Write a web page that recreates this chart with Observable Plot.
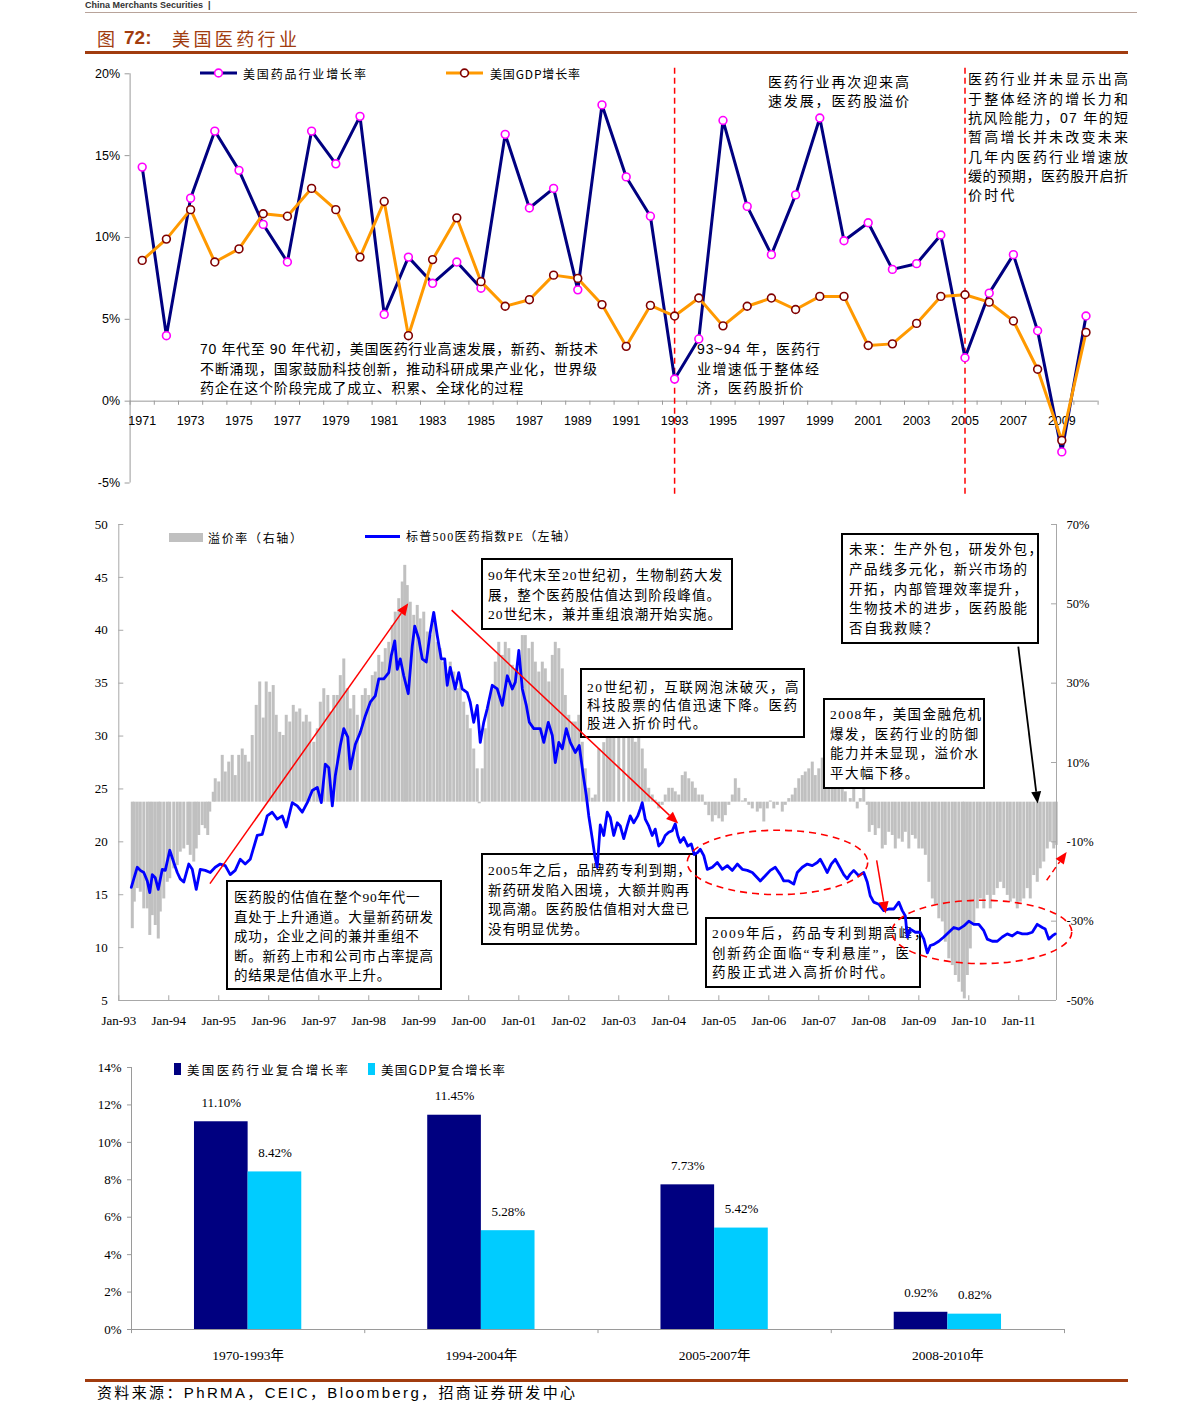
<!DOCTYPE html>
<html lang="zh-CN"><head><meta charset="utf-8">
<script src="https://cdn.jsdelivr.net/npm/d3@7"></script>
<script src="https://cdn.jsdelivr.net/npm/@observablehq/plot@0.6"></script>
<style>
html,body{margin:0;padding:0;background:#fff;}
#page{position:relative;width:1191px;height:1422px;overflow:hidden;background:#fff;}
</style></head><body><div id="page"></div>
<script>
// ---------------- DATA ----------------
// Panel 1: annual growth (%)
const years = [1971,1972,1973,1974,1975,1976,1977,1978,1979,1980,1981,1982,1983,1984,1985,1986,1987,1988,1989,1990,1991,1992,1993,1994,1995,1996,1997,1998,1999,2000,2001,2002,2003,2004,2005,2006,2007,2008,2009,2010];
const pharmaGrowth = [14.3,4.0,12.4,16.5,14.1,10.8,8.5,16.5,14.5,17.4,5.3,8.8,7.2,8.5,6.9,16.3,11.8,13.0,6.8,18.1,13.7,11.3,1.35,3.8,17.15,11.9,8.95,12.6,17.3,9.8,10.9,8.05,8.4,10.15,2.65,6.6,8.95,4.3,-3.1,5.2];
const gdpGrowth = [8.6,9.9,11.7,8.5,9.3,11.45,11.3,13.0,11.7,8.8,12.2,4.0,8.65,11.2,7.3,5.8,6.2,7.7,7.5,5.9,3.35,5.85,5.2,6.3,4.6,5.8,6.3,5.6,6.4,6.4,3.4,3.5,4.75,6.4,6.5,6.05,4.9,1.95,-2.4,4.2];
const topYTicks = [-5,0,5,10,15,20];
const topLabelYears = [1971,1973,1975,1977,1979,1981,1983,1985,1987,1989,1991,1993,1995,1997,1999,2001,2003,2005,2007,2009];
const dividerYears = [1993,2005];

// Panel 2: S&P500 pharma PE (left axis), [decimal year, PE]
const peSeries = [[1993.25,15.7],[1993.30,16.5],[1993.37,17.6],[1993.43,17.3],[1993.50,17.1],[1993.57,16.3],[1993.62,15.2],[1993.67,16.9],[1993.73,16.6],[1993.79,15.5],[1993.87,17.4],[1993.93,17.3],[1994.02,19.2],[1994.10,18.05],[1994.17,17.1],[1994.23,16.5],[1994.30,16.2],[1994.40,17.9],[1994.47,17.4],[1994.55,15.5],[1994.63,17.4],[1994.73,17.3],[1994.83,17.1],[1994.93,17.6],[1995.03,17.9],[1995.13,17.75],[1995.23,16.9],[1995.33,17.3],[1995.43,18.35],[1995.53,17.9],[1995.63,18.35],[1995.77,20.6],[1995.87,20.7],[1995.97,22.45],[1996.07,22.8],[1996.17,22.15],[1996.27,22.45],[1996.35,21.4],[1996.47,23.7],[1996.57,23.4],[1996.67,22.8],[1996.77,23.7],[1996.87,24.85],[1996.97,25.15],[1997.05,23.7],[1997.13,27.35],[1997.20,27.0],[1997.27,23.4],[1997.33,26.25],[1997.43,29.1],[1997.50,30.7],[1997.58,29.9],[1997.63,26.9],[1997.73,29.2],[1997.83,30.35],[1997.93,31.9],[1998.03,33.2],[1998.13,33.8],[1998.20,35.4],[1998.30,35.4],[1998.40,36.0],[1998.45,37.6],[1998.52,39.0],[1998.57,36.3],[1998.63,37.3],[1998.70,35.7],[1998.79,34.0],[1998.87,38.5],[1998.92,40.4],[1999.00,39.2],[1999.07,37.3],[1999.15,37.0],[1999.23,39.8],[1999.30,41.7],[1999.37,39.5],[1999.45,37.3],[1999.52,37.3],[1999.57,34.8],[1999.63,36.5],[1999.73,34.45],[1999.80,36.0],[1999.87,34.45],[1999.97,34.1],[2000.03,33.2],[2000.10,31.3],[2000.17,32.9],[2000.23,29.4],[2000.30,31.3],[2000.37,32.6],[2000.47,34.8],[2000.57,34.45],[2000.67,32.9],[2000.77,35.7],[2000.87,34.45],[2000.93,35.1],[2001.00,38.1],[2001.07,34.45],[2001.15,32.9],[2001.21,31.3],[2001.30,30.7],[2001.37,30.7],[2001.43,30.7],[2001.50,29.4],[2001.59,31.3],[2001.67,30.05],[2001.73,27.5],[2001.80,29.4],[2001.87,28.8],[2001.95,30.7],[2002.03,29.4],[2002.13,28.45],[2002.21,29.1],[2002.28,26.6],[2002.35,24.4],[2002.40,22.45],[2002.47,20.3],[2002.52,18.7],[2002.57,17.6],[2002.63,21.6],[2002.70,20.6],[2002.77,22.8],[2002.83,22.3],[2002.90,20.6],[2002.97,21.8],[2003.03,21.5],[2003.10,20.3],[2003.17,21.5],[2003.23,22.45],[2003.30,21.8],[2003.38,22.45],[2003.43,23.1],[2003.47,23.7],[2003.53,22.15],[2003.60,21.5],[2003.67,20.6],[2003.73,21.2],[2003.80,19.6],[2003.87,19.95],[2003.93,20.6],[2004.00,20.9],[2004.07,21.05],[2004.13,21.7],[2004.18,20.6],[2004.23,19.95],[2004.30,20.4],[2004.38,19.6],[2004.45,19.8],[2004.51,18.8],[2004.58,19.0],[2004.63,19.3],[2004.70,18.7],[2004.77,17.4],[2004.87,17.6],[2004.97,18.05],[2005.07,17.4],[2005.17,17.75],[2005.27,17.3],[2005.37,17.9],[2005.47,17.4],[2005.57,17.3],[2005.67,17.1],[2005.77,16.6],[2005.83,16.3],[2005.93,16.8],[2006.03,17.3],[2006.13,17.6],[2006.23,16.9],[2006.30,16.3],[2006.40,16.3],[2006.50,16.0],[2006.57,17.1],[2006.67,17.6],[2006.77,17.9],[2006.87,17.75],[2006.97,18.05],[2007.03,18.35],[2007.10,17.75],[2007.17,17.1],[2007.25,17.9],[2007.33,18.35],[2007.42,17.6],[2007.50,16.9],[2007.57,16.5],[2007.63,16.95],[2007.70,17.3],[2007.80,16.8],[2007.90,17.1],[2007.97,16.2],[2008.03,14.9],[2008.10,14.3],[2008.20,14.1],[2008.30,13.5],[2008.40,13.65],[2008.50,13.65],[2008.60,14.3],[2008.67,13.5],[2008.73,13.0],[2008.77,11.0],[2008.83,11.75],[2008.93,11.45],[2009.03,11.45],[2009.10,10.8],[2009.17,9.5],[2009.23,10.2],[2009.30,10.3],[2009.40,10.6],[2009.50,11.0],[2009.60,11.45],[2009.70,11.9],[2009.80,11.75],[2009.90,12.05],[2010.00,12.5],[2010.10,12.2],[2010.20,12.2],[2010.30,11.6],[2010.37,10.8],[2010.47,10.6],[2010.57,10.6],[2010.67,11.0],[2010.77,11.3],[2010.87,11.1],[2010.97,11.45],[2011.07,11.3],[2011.17,11.3],[2011.27,11.45],[2011.37,12.2],[2011.47,11.9],[2011.53,11.75],[2011.60,10.8],[2011.67,11.1],[2011.73,11.3]];

// Panel 2: premium (right axis, %), [decimal year, premium]
const premiumSeries = [[1993.27,-31.9],[1993.31,-25.2],[1993.37,-21.8],[1993.43,-22.7],[1993.50,-26.9],[1993.57,-26.9],[1993.62,-33.6],[1993.67,-28.6],[1993.73,-31.1],[1993.79,-34.5],[1993.83,-27.7],[1993.90,-24.4],[1993.97,-20.2],[1994.02,-19.3],[1994.10,-16.8],[1994.17,-16.0],[1994.23,-12.6],[1994.30,-11.8],[1994.38,-10.9],[1994.43,-13.4],[1994.50,-15.1],[1994.55,-11.8],[1994.60,-8.4],[1994.67,-5.9],[1994.73,-6.7],[1994.78,-8.4],[1994.82,-2.5],[1994.89,2.5],[1994.93,5.9],[1995.00,5.1],[1995.07,11.8],[1995.13,7.6],[1995.20,10.1],[1995.27,11.8],[1995.33,6.7],[1995.40,11.8],[1995.47,13.4],[1995.53,11.8],[1995.60,10.1],[1995.67,16.8],[1995.75,24.4],[1995.82,30.3],[1995.89,21.2],[1995.95,30.3],[1996.02,27.7],[1996.09,29.4],[1996.15,21.9],[1996.22,17.6],[1996.29,16.8],[1996.35,21.9],[1996.42,20.2],[1996.49,24.4],[1996.55,22.7],[1996.62,23.5],[1996.69,20.2],[1996.75,21.9],[1996.82,20.2],[1996.90,15.1],[1996.97,18.5],[1997.03,25.2],[1997.10,28.6],[1997.18,26.9],[1997.23,22.7],[1997.30,26.9],[1997.37,26.9],[1997.43,31.9],[1997.50,36.1],[1997.57,28.6],[1997.63,23.5],[1997.70,26.9],[1997.77,21.9],[1997.87,26.9],[1997.93,28.6],[1998.00,26.9],[1998.07,31.9],[1998.13,32.8],[1998.20,37.0],[1998.27,35.3],[1998.33,38.7],[1998.40,40.3],[1998.47,44.5],[1998.53,47.9],[1998.60,51.3],[1998.67,55.5],[1998.72,59.7],[1998.77,54.6],[1998.83,50.4],[1998.90,47.1],[1998.97,49.6],[1999.03,46.2],[1999.10,47.9],[1999.17,42.9],[1999.23,42.0],[1999.30,47.1],[1999.37,40.3],[1999.43,38.7],[1999.50,35.3],[1999.57,31.9],[1999.63,35.3],[1999.70,32.8],[1999.77,28.6],[1999.83,30.3],[1999.90,25.2],[1999.97,21.9],[2000.03,18.5],[2000.10,13.4],[2000.17,8.4],[2000.21,-0.4],[2000.27,8.4],[2000.33,18.5],[2000.40,25.2],[2000.47,28.6],[2000.53,35.3],[2000.60,40.3],[2000.67,37.0],[2000.73,40.3],[2000.80,38.7],[2000.87,34.5],[2000.93,33.6],[2001.00,37.0],[2001.07,42.0],[2001.13,42.0],[2001.20,38.7],[2001.27,40.3],[2001.33,35.3],[2001.40,32.8],[2001.47,35.3],[2001.53,33.6],[2001.60,30.3],[2001.67,37.0],[2001.73,40.3],[2001.80,38.7],[2001.87,33.6],[2001.93,26.9],[2002.00,21.9],[2002.07,20.2],[2002.13,20.2],[2002.20,21.9],[2002.27,15.1],[2002.33,8.4],[2002.40,3.5],[2002.47,1.0],[2002.53,1.8],[2002.60,13.4],[2002.70,15.0],[2002.77,18.5],[2002.83,20.0],[2002.90,21.9],[2003.00,25.2],[2003.10,20.2],[2003.20,21.9],[2003.27,19.4],[2003.33,15.1],[2003.40,18.5],[2003.47,13.4],[2003.53,8.4],[2003.60,3.5],[2003.67,1.8],[2003.73,0.5],[2003.80,-1.7],[2003.87,-0.8],[2003.93,1.8],[2004.00,3.5],[2004.07,3.5],[2004.13,2.6],[2004.20,1.8],[2004.27,6.7],[2004.33,7.6],[2004.40,5.9],[2004.47,5.1],[2004.53,3.5],[2004.60,1.8],[2004.67,1.8],[2004.73,-0.8],[2004.80,-3.4],[2004.87,-5.0],[2004.93,-3.4],[2005.00,-4.2],[2005.07,-5.0],[2005.13,-3.4],[2005.20,-0.8],[2005.27,1.8],[2005.33,5.9],[2005.40,3.5],[2005.47,0.3],[2005.53,0.9],[2005.60,-0.8],[2005.67,-1.7],[2005.77,-2.5],[2005.83,-1.7],[2005.90,-5.0],[2005.97,-1.7],[2006.03,0.3],[2006.10,-1.7],[2006.17,-0.8],[2006.27,-2.5],[2006.33,-0.8],[2006.40,0.9],[2006.47,1.8],[2006.53,3.5],[2006.60,5.9],[2006.67,6.7],[2006.73,7.6],[2006.80,8.4],[2006.87,10.1],[2006.93,6.7],[2007.00,8.4],[2007.07,11.1],[2007.13,8.4],[2007.20,5.9],[2007.27,5.1],[2007.33,6.7],[2007.40,3.5],[2007.47,4.4],[2007.53,2.6],[2007.63,0.9],[2007.70,3.5],[2007.77,-1.7],[2007.83,0.9],[2007.90,3.5],[2007.97,-0.8],[2008.01,-7.6],[2008.07,-5.9],[2008.13,-8.4],[2008.20,-6.7],[2008.27,-11.8],[2008.33,-10.9],[2008.40,-7.6],[2008.47,-8.4],[2008.53,-11.8],[2008.60,-9.3],[2008.67,-10.1],[2008.73,-7.6],[2008.80,-11.8],[2008.87,-8.4],[2008.93,-9.3],[2009.00,-11.8],[2009.07,-11.8],[2009.13,-13.4],[2009.20,-20.2],[2009.27,-24.4],[2009.33,-26.0],[2009.40,-29.4],[2009.47,-30.2],[2009.53,-35.3],[2009.60,-39.5],[2009.67,-41.2],[2009.73,-43.7],[2009.80,-45.4],[2009.87,-47.9],[2009.91,-49.6],[2009.97,-43.7],[2010.03,-37.0],[2010.10,-31.1],[2010.17,-26.9],[2010.23,-24.4],[2010.30,-26.9],[2010.37,-23.5],[2010.43,-26.9],[2010.50,-23.5],[2010.57,-21.8],[2010.63,-20.2],[2010.70,-21.8],[2010.77,-23.5],[2010.83,-25.2],[2010.90,-24.4],[2010.97,-26.9],[2011.03,-25.2],[2011.10,-24.4],[2011.17,-21.8],[2011.23,-24.4],[2011.30,-18.5],[2011.37,-20.2],[2011.43,-16.8],[2011.50,-15.1],[2011.57,-11.8],[2011.63,-10.1],[2011.70,-11.8],[2011.75,-10.9]];
const leftTicks = [5,10,15,20,25,30,35,40,45,50];
const rightTicksPct = [-50,-30,-10,10,30,50,70];

// Panel 3: compound growth
const periods = ["1970-1993年","1994-2004年","2005-2007年","2008-2010年"];
const pharmaCAGR = [11.10,11.45,7.73,0.92];
const gdpCAGR = [8.42,5.28,5.42,0.82];
const bottomYTicks = [0,2,4,6,8,10,12,14];

// ---------------- HELPERS ----------------
const page = document.getElementById("page");
const CJK = '"Noto Sans CJK SC", sans-serif';
const SERIF = '"Liberation Serif", "Noto Sans CJK SC", serif';
const SANS = '"Liberation Sans", Arial, "Noto Sans CJK SC", sans-serif';
const BROWN = "#a13c0f";

function place(el, top, z) {
  el.style.position = "absolute"; el.style.left = "0px"; el.style.top = top + "px"; el.style.zIndex = z;
  page.appendChild(el);
}
function rectDiv(x, y, w, h, css, z) {
  const d = document.createElement("div");
  d.style.cssText = `position:absolute;left:${x}px;top:${y}px;width:${w}px;height:${h}px;box-sizing:border-box;z-index:${z};${css}`;
  page.appendChild(d); return d;
}
// text block: fit = line whose width sets the letter spacing of the block; wl = optional per-line widths
function note(cfg) {
  const wrap = document.createElement("div");
  const lh = cfg.lh || 19;
  wrap.style.cssText = `position:absolute;left:${cfg.left}px;top:${cfg.y - lh/2}px;font-size:${cfg.fs}px;line-height:${lh}px;white-space:pre;font-family:${cfg.ff || CJK};color:${cfg.color || "#000"};font-weight:${cfg.fw || 400};z-index:${cfg.z || 6};`;
  const spans = cfg.lines.map(t => { const d = document.createElement("div"); const s = document.createElement("span"); s.textContent = t; d.appendChild(s); wrap.appendChild(d); return s; });
  page.appendChild(wrap);
  const nat = spans.map(s => s.getBoundingClientRect().width);
  const ls = (i, w) => (w - nat[i]) / Math.max(1, [...cfg.lines[i]].length - 1);
  if (cfg.w) {
    const k = cfg.fit || 0;
    wrap.style.letterSpacing = ls(k, cfg.w) + "px";
  }
  if (cfg.wl) cfg.wl.forEach((w, i) => { if (w) spans[i].style.letterSpacing = ls(i, w) + "px"; });
  return wrap;
}
const toDate = t => { const y = Math.floor(t); const a = Date.UTC(y,0,1), b = Date.UTC(y+1,0,1); return new Date(a + (t - y) * (b - a)); };

// ---------------- HEADER ----------------
note({left:85, y:5, lh:10, fs:9, fw:700, ff:SANS, color:"#333", lines:["China Merchants Securities  |"]});
rectDiv(85, 11.5, 1052, 1.2, "background:#b8a39a;", 1);
note({left:97, y:38, lh:24, fs:18, color:BROWN, lines:["图"]});
note({left:124, y:38, lh:24, fs:19, fw:700, ff:SANS, color:BROWN, lines:["72:"]});
note({left:172, y:38, lh:24, fs:18, color:BROWN, fit:0, w:125, lines:["美国医药行业"]});
rectDiv(85, 50.5, 1043, 3, `background:${BROWN};`, 1);

// ---------------- PANEL 1 ----------------
const topRows = years.map((y, i) => ({year: y, pharma: pharmaGrowth[i], gdp: gdpGrowth[i]}));
const x0 = years[0] - 0.5, x1 = years[years.length - 1] + 0.5;
const topChart = Plot.plot({
  width: 1191, height: 440, marginTop: 13.3, marginBottom: 17.5, marginLeft: 129.6, marginRight: 93.4,
  style: {background: "transparent", fontFamily: SANS, fontSize: "12.5px", color: "#000"},
  x: {domain: [x0, x1], axis: null},
  y: {domain: [-5, 20], axis: null},
  marks: [
    Plot.ruleX([x0], {y1: -5, y2: 20, stroke: "#9a9a9a"}),
    Plot.ruleY([0], {x1: x0, x2: x1, stroke: "#9a9a9a"}),
    Plot.ruleX([x0, ...years.map(y => y + 0.5)], {y1: 0, y2: -0.25, stroke: "#9a9a9a"}),
    Plot.axisY({ticks: topYTicks, tickSize: 5, tickPadding: 5, tickFormat: d => d + "%", stroke: "#9a9a9a", label: null}),
    Plot.text(topLabelYears, {x: d => d, y: 0, dy: 20, text: d => String(d)}),
    Plot.ruleX(dividerYears, {y1: 20.34, y2: -5.74, stroke: "#ff0000", strokeWidth: 1.5, strokeDasharray: "6,4"}),
    Plot.line(topRows, {x: "year", y: "pharma", stroke: "#000080", strokeWidth: 3}),
    Plot.dot(topRows, {x: "year", y: "pharma", r: 3.9, fill: "#fff", stroke: "#ff00ff", strokeWidth: 1.6}),
    Plot.line(topRows, {x: "year", y: "gdp", stroke: "#ff9900", strokeWidth: 3}),
    Plot.dot(topRows, {x: "year", y: "gdp", r: 3.9, fill: "#fff", stroke: "#800000", strokeWidth: 1.6})
  ]
});
place(topChart, 60, 2);

// legend panel 1
function lineSwatch(x, y, color, ring) {
  const s = d3.create("svg").attr("width", 40).attr("height", 14)
    .style("position", "absolute").style("left", (x) + "px").style("top", (y - 7) + "px").style("z-index", 6);
  s.append("line").attr("x1", 0).attr("x2", 37).attr("y1", 7).attr("y2", 7).attr("stroke", color).attr("stroke-width", 3);
  s.append("circle").attr("cx", 18.5).attr("cy", 7).attr("r", 3.9).attr("fill", "#fff").attr("stroke", ring).attr("stroke-width", 1.6);
  page.appendChild(s.node());
}
lineSwatch(200, 73, "#000080", "#ff00ff");
lineSwatch(446, 73, "#ff9900", "#800000");
note({left:243, y:73, fs:12, fit:0, w:123, lines:["美国药品行业增长率"]});
note({left:490, y:73, fs:12, fit:0, w:90, lines:["美国GDP增长率"]});

// annotations panel 1
note({left:200, y:350, lh:19.4, fs:14, ff:SANS, fit:1, w:397, wl:[398,397,null], lines:["70 年代至 90 年代初，美国医药行业高速发展，新药、新技术","不断涌现，国家鼓励科技创新，推动科研成果产业化，世界级","药企在这个阶段完成了成立、积累、全球化的过程"]});
note({left:697, y:350, lh:19.3, fs:14, ff:SANS, fit:1, w:122, wl:[123,122,null], lines:["93~94 年，医药行","业增速低于整体经","济，医药股折价"]});
note({left:768, y:82.5, lh:19, fs:14, ff:SANS, fit:0, w:141, lines:["医药行业再次迎来高","速发展，医药股溢价"]});
note({left:968, y:80, lh:19.3, fs:14, ff:SANS, fit:0, w:160, wl:[160,160,160,160,160,160,null], lines:["医药行业并未显示出高","于整体经济的增长力和","抗风险能力，07 年的短","暂高增长并未改变未来","几年内医药行业增速放","缓的预期，医药股开启折","价时代"]});

// ---------------- PANEL 2 ----------------
const peRows = peSeries.map(([t, v]) => ({date: toDate(t), v}));
const premRows = premiumSeries.map(([t, p]) => ({date: toDate(t), p}));
const midStart = new Date(Date.UTC(1993, 0, 1)), midEnd = toDate(2011.755);
const janTicks = d3.utcYear.range(midStart, new Date(Date.UTC(2011, 1, 1)));
const pctToPE = p => 23.75 + 0.375 * p;   // right axis [-50,70]% <-> left axis [5,50]
const midCommon = {
  width: 1191, height: 530, marginTop: 14, marginBottom: 40, marginLeft: 118.3, marginRight: 135,
  x: {type: "utc", domain: [midStart, midEnd], axis: null},
  y: {domain: [5, 50], axis: null}
};
const midA = Plot.plot({
  ...midCommon,
  style: {background: "transparent", fontFamily: SERIF, fontSize: "13px", color: "#000"},
  marks: [
    Plot.ruleX(premRows, {x: "date", y1: pctToPE(0), y2: d => pctToPE(d.p), stroke: "#c0c0c0", strokeWidth: 3}),
    Plot.ruleX([midStart, midEnd], {y1: 5, y2: 50, stroke: "#a8a8a8"}),
    Plot.ruleY([5], {x1: midStart, x2: midEnd, stroke: "#a8a8a8"}),
    Plot.ruleY(leftTicks, {x1: midStart, x2: toDate(1993.1), stroke: "#a8a8a8"}),
    Plot.ruleY(rightTicksPct.map(pctToPE), {x1: toDate(2011.655), x2: midEnd, stroke: "#a8a8a8"}),
    Plot.ruleX(janTicks, {y1: 5, y2: 5.45, stroke: "#a8a8a8"}),
    Plot.axisY({ticks: leftTicks, tickSize: 0, tickPadding: 11, label: null}),
    Plot.axisY({anchor: "right", ticks: rightTicksPct.map(pctToPE), tickSize: 0, tickPadding: 10, fontSize: 12.5, label: null,
      tickFormat: v => Math.round((v - 23.75) / 0.375) + "%"}),
    Plot.axisX({ticks: janTicks, tickSize: 0, tickPadding: 15, tickFormat: d3.utcFormat("%b-%y"), label: null})
  ]
});
place(midA, 510, 2);

// boxed notes (under the PE line)
const boxNotes = [
  {box:[226,880,216,110], left:234, y:898, lh:19.4, fit:1, w:199, lines:["医药股的估值在整个90年代一","直处于上升通道。大量新药研发","成功，企业之间的兼并重组不","断。新药上市和公司市占率提高","的结果是估值水平上升。"]},
  {box:[481,558,252,72], left:488, y:576, lh:19.5, fit:1, w:232, lines:["90年代末至20世纪初，生物制药大发","展，整个医药股估值达到阶段峰值。","20世纪末，兼并重组浪潮开始实施。"]},
  {box:[580,668,225,70], left:587, y:688, lh:18, fit:1, w:210, lines:["20世纪初，互联网泡沫破灭，高","科技股票的估值迅速下降。医药","股进入折价时代。"]},
  {box:[481,853,216,92], left:488, y:871, lh:19.4, fit:1, w:201, lines:["2005年之后，品牌药专利到期，","新药研发陷入困境，大额并购再","现高潮。医药股估值相对大盘已","没有明显优势。"]},
  {box:[705,917,216,71], left:712, y:934, lh:19.3, fit:1, w:197, lines:["2009年后，药品专利到期高峰，","创新药企面临“专利悬崖”，医","药股正式进入高折价时代。"]},
  {box:[823,698,162,91], left:830, y:715, lh:19.4, fit:1, w:148, lines:["2008年，美国金融危机","爆发，医药行业的防御","能力并未显现，溢价水","平大幅下移。"]},
  {box:[841,533,198,111], left:849, y:550, lh:19.8, fit:3, w:178, lines:["未来：生产外包，研发外包，","产品线多元化，新兴市场的","开拓，内部管理效率提升，","生物技术的进步，医药股能","否自我救赎？"]}
];
for (const b of boxNotes) {
  rectDiv(b.box[0], b.box[1], b.box[2], b.box[3], "background:#fff;border:2px solid #000;", 3);
  note({...b, fs:13.5, ff:SERIF, z:3});
}

// overlay: PE line + arrows + ellipses
const arrowSpecs = [
  {t1:1994.834, v1:16.0, t2:1998.80, v2:42.5, color:"#ff0000"},
  {t1:1999.668, v1:41.86, t2:2004.2, v2:21.68, color:"#ff0000"},
  {t1:2008.168, v1:18.2, t2:2008.348, v2:13.17, color:"#ff0000"},
  {t1:2011.0, v1:38.4, t2:2011.388, v2:23.58, color:"#000000"},
  {t1:2011.568, v1:16.32, t2:2011.968, v2:19.0, color:"#ff0000", dash:true}
];
const ellipseSpecs = [
  {t1:2004.38, t2:2007.99, v1:21.05, v2:14.97},
  {t1:2008.47, t2:2012.07, v1:14.43, v2:8.44}
];
function annotationLayer(index, scales) {
  const X = t => scales.x(toDate(t)), Y = v => scales.y(v);
  const g = d3.create("svg:g");
  for (const e of ellipseSpecs) {
    const ax = X(e.t1), bx = X(e.t2), ay = Y(e.v1), by = Y(e.v2);
    g.append("ellipse").attr("cx", (ax + bx) / 2).attr("cy", (ay + by) / 2)
      .attr("rx", Math.abs(bx - ax) / 2).attr("ry", Math.abs(by - ay) / 2)
      .attr("fill", "none").attr("stroke", "#ff0000").attr("stroke-width", 1.6).attr("stroke-dasharray", "7,5");
  }
  for (const a of arrowSpecs) {
    const xa = X(a.t1), ya = Y(a.v1), xb = X(a.t2), yb = Y(a.v2);
    const ang = Math.atan2(yb - ya, xb - xa), L = 12, W = 5;
    const bx = xb - L * Math.cos(ang), by = yb - L * Math.sin(ang);
    g.append("line").attr("x1", xa).attr("y1", ya).attr("x2", bx).attr("y2", by)
      .attr("stroke", a.color).attr("stroke-width", a.color === "#000000" ? 1.8 : 1.5)
      .attr("stroke-dasharray", a.dash ? "6,4" : null);
    g.append("path").attr("fill", a.color)
      .attr("d", `M${xb},${yb}L${bx - W * Math.sin(ang)},${by + W * Math.cos(ang)}L${bx + W * Math.sin(ang)},${by - W * Math.cos(ang)}Z`);
  }
  return g.node();
}
const midB = Plot.plot({
  ...midCommon,
  style: {background: "transparent", overflow: "visible"},
  marks: [
    Plot.line(peRows, {x: "date", y: "v", stroke: "#0000ff", strokeWidth: 2.8}),
    annotationLayer
  ]
});
place(midB, 510, 4);

// legend panel 2
rectDiv(169, 533, 34, 9, "background:#c0c0c0;", 5);
note({left:208, y:537, fs:12, fit:0, w:94, lines:["溢价率（右轴）"]});
rectDiv(365, 535, 35, 3, "background:#0000ff;", 5);
note({left:406, y:537, fs:12, ff:SERIF, fit:0, w:170, lines:["标普500医药指数PE（左轴）"]});

// ---------------- PANEL 3 ----------------
const pharmaRows = periods.map((p, i) => ({i, v: pharmaCAGR[i]}));
const gdpRows = periods.map((p, i) => ({i, v: gdpCAGR[i]}));
const bottom = Plot.plot({
  width: 1191, height: 320, marginTop: 12, marginBottom: 46, marginLeft: 131, marginRight: 127,
  style: {background: "transparent", fontFamily: SERIF, fontSize: "13px", color: "#000"},
  x: {domain: [-0.5, periods.length - 0.5], axis: null},
  y: {domain: [0, 14], axis: null},
  marks: [
    Plot.rect(pharmaRows, {x1: d => d.i - 0.23, x2: d => d.i, y1: 0, y2: "v", fill: "#000080"}),
    Plot.rect(gdpRows, {x1: d => d.i, x2: d => d.i + 0.23, y1: 0, y2: "v", fill: "#00ccff"}),
    Plot.ruleX([-0.5], {y1: 0, y2: 14, stroke: "#9a9a9a"}),
    Plot.ruleY([0], {x1: -0.5, x2: periods.length - 0.5, stroke: "#9a9a9a"}),
    Plot.ruleX(d3.range(-0.5, periods.length, 1), {y1: 0, y2: -0.22, stroke: "#9a9a9a"}),
    Plot.axisY({ticks: bottomYTicks, tickSize: 4, tickPadding: 6, tickFormat: d => d + "%", stroke: "#9a9a9a", label: null}),
    Plot.text(pharmaRows, {x: d => d.i - 0.115, y: "v", dy: -19, text: d => d.v.toFixed(2) + "%"}),
    Plot.text(gdpRows, {x: d => d.i + 0.115, y: "v", dy: -19, text: d => d.v.toFixed(2) + "%"}),
    Plot.text(periods, {x: (d, i) => i, y: 0, dy: 26, text: d => d, fontSize: 13.5})
  ]
});
place(bottom, 1055, 2);

// legend panel 3
rectDiv(174, 1063, 7, 12, "background:#000080;", 5);
note({left:187, y:1069, fs:12.5, fit:0, w:161, lines:["美国医药行业复合增长率"]});
rectDiv(368, 1063, 7, 12, "background:#00ccff;", 5);
note({left:381, y:1069, fs:12.5, fit:0, w:124, lines:["美国GDP复合增长率"]});

// ---------------- FOOTER ----------------
rectDiv(85, 1378.5, 1043, 3, `background:${BROWN};`, 1);
note({left:97, y:1393, lh:20, fs:15, ff:SANS, fit:0, w:478, lines:["资料来源：PhRMA，CEIC，Bloomberg，招商证券研发中心"]});
</script></body></html>
